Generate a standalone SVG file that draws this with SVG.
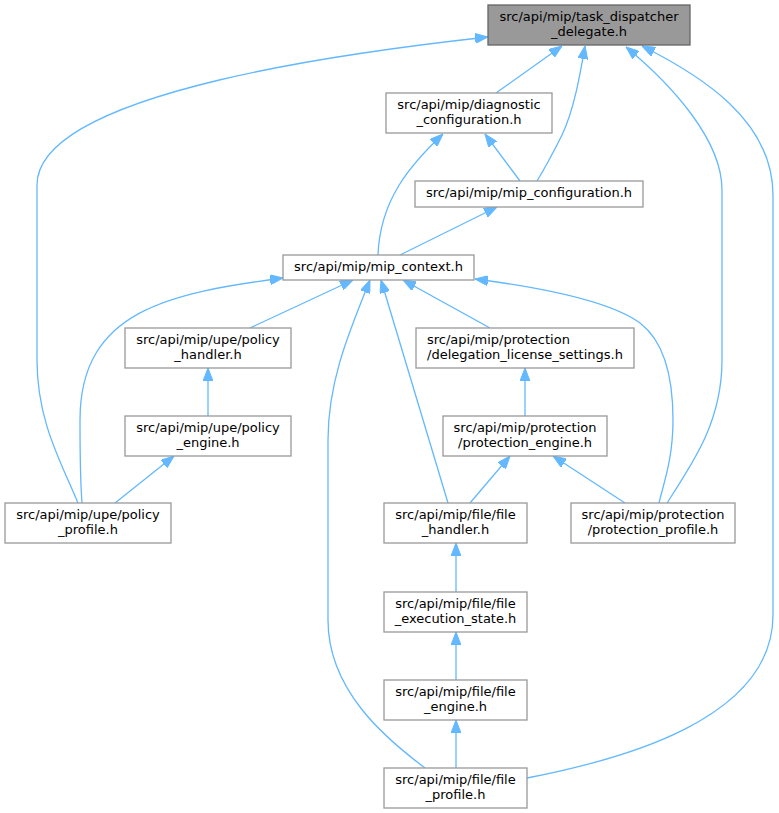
<svg xmlns="http://www.w3.org/2000/svg" width="779" height="813" viewBox="0 0 779 813">
<defs>
<style>
.n rect{fill:#ffffff;stroke:#999999;stroke-width:1.3}
.n.root rect{fill:#999999;stroke:#666666}
.n text{font-family:"DejaVu Sans","Liberation Sans",sans-serif;font-size:13px;fill:#000000;text-anchor:middle}
.n text.l{text-anchor:start}
.e path{fill:none;stroke:#63b8ff;stroke-width:1.3;marker-start:url(#ah)}
</style>
<marker id="ah" markerUnits="userSpaceOnUse" viewBox="0 0 13 10" refX="13" refY="5" markerWidth="13" markerHeight="10" orient="auto-start-reverse">
<path d="M0,0 L13,5 L0,10 Z" fill="#63b8ff" stroke="#63b8ff" stroke-width="1"/>
</marker>
</defs>
<rect width="779" height="813" fill="#ffffff"/>
<g id="edges" class="e">
<path d="M562,46 L496,93"/>
<path d="M585,46 C580,75 574,110 562,135 C552,155 545,168 537,181"/>
<path d="M626,47 C672,85 722,140 722,190 L722,360 C722,420 695,460 667,503"/>
<path d="M642,46 C700,75 773,120 773,195 L773,615 C773,720 620,760 527,778"/>
<path d="M488,37 C370,50 37,90 37,185 L37,360 C37,420 60,460 78,503"/>
<path d="M443,134 C410,165 380,200 378,255"/>
<path d="M485,134 L520,181"/>
<path d="M497,207 L400,255"/>
<path d="M283,278 C170,293 80,310 80,420 C80,460 81,490 82,503"/>
<path d="M353,280 L250,328"/>
<path d="M208,368 L208,416"/>
<path d="M174,456 L115,503"/>
<path d="M403,280 L490,328"/>
<path d="M381,280 L448,503"/>
<path d="M370,280 C350,330 328,380 328,440 L328,620 C328,690 385,738 425,768"/>
<path d="M475,279 C560,290 615,305 640,323 C665,342 673,380 673,420 C673,460 663,485 659,503"/>
<path d="M525,368 L525,416"/>
<path d="M510,456 L470,503"/>
<path d="M553,456 L625,503"/>
<path d="M456,543 L456,592"/>
<path d="M456,632 L456,680"/>
<path d="M456,720 L456,768"/>
</g>
<g id="task_dispatcher_delegate" class="n root">
<rect x="488" y="5" width="202" height="40"/>
<text x="589" y="21.3">src/api/mip/task_dispatcher</text>
<text x="589" y="35.8">_delegate.h</text>
</g>
<g id="diagnostic_configuration" class="n">
<rect x="386" y="93" width="166" height="40"/>
<text x="469" y="109.3">src/api/mip/diagnostic</text>
<text x="469" y="123.8">_configuration.h</text>
</g>
<g id="mip_configuration" class="n">
<rect x="415" y="181" width="228" height="26"/>
<text x="529" y="196.7">src/api/mip/mip_configuration.h</text>
</g>
<g id="mip_context" class="n">
<rect x="283" y="255" width="191" height="25"/>
<text x="378.5" y="270.7">src/api/mip/mip_context.h</text>
</g>
<g id="policy_handler" class="n">
<rect x="125" y="328" width="166" height="40"/>
<text x="208" y="344.3">src/api/mip/upe/policy</text>
<text x="208" y="358.8">_handler.h</text>
</g>
<g id="policy_engine" class="n">
<rect x="125" y="416" width="166" height="40"/>
<text x="208" y="432.3">src/api/mip/upe/policy</text>
<text x="208" y="446.8">_engine.h</text>
</g>
<g id="policy_profile" class="n">
<rect x="5" y="503" width="166" height="40"/>
<text x="88" y="519.3">src/api/mip/upe/policy</text>
<text x="88" y="533.8">_profile.h</text>
</g>
<g id="delegation_license_settings" class="n">
<rect x="416" y="328" width="218" height="40"/>
<text class="l" x="427" y="344.3">src/api/mip/protection</text>
<text class="l" x="427" y="358.8">/delegation_license_settings.h</text>
</g>
<g id="protection_engine" class="n">
<rect x="443" y="416" width="164" height="40"/>
<text x="525" y="432.3">src/api/mip/protection</text>
<text x="525" y="446.8">/protection_engine.h</text>
</g>
<g id="file_handler" class="n">
<rect x="384" y="503" width="143" height="40"/>
<text x="455.5" y="519.3">src/api/mip/file/file</text>
<text x="455.5" y="533.8">_handler.h</text>
</g>
<g id="protection_profile" class="n">
<rect x="571" y="503" width="164" height="40"/>
<text x="653" y="519.3">src/api/mip/protection</text>
<text x="653" y="533.8">/protection_profile.h</text>
</g>
<g id="file_execution_state" class="n">
<rect x="384" y="592" width="143" height="40"/>
<text x="455.5" y="608.3">src/api/mip/file/file</text>
<text x="455.5" y="622.8">_execution_state.h</text>
</g>
<g id="file_engine" class="n">
<rect x="384" y="680" width="143" height="40"/>
<text x="455.5" y="696.3">src/api/mip/file/file</text>
<text x="455.5" y="710.8">_engine.h</text>
</g>
<g id="file_profile" class="n">
<rect x="384" y="768" width="143" height="40"/>
<text x="455.5" y="784.3">src/api/mip/file/file</text>
<text x="455.5" y="798.8">_profile.h</text>
</g>
</svg>
